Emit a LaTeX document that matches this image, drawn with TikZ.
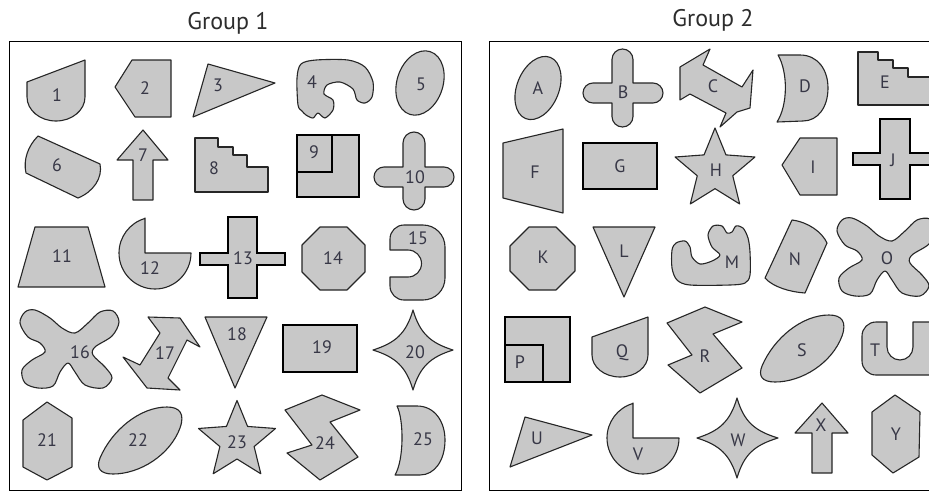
\documentclass[tikz,border=0pt]{standalone}
\usepackage{fontspec}
\setmainfont{PT Sans}
\usetikzlibrary{shapes.geometric}
\definecolor{shapegray}{RGB}{200,200,200}
\definecolor{labelcol}{RGB}{55,55,70}
\definecolor{titlecol}{RGB}{45,45,45}
\begin{document}
\begin{tikzpicture}[x=1pt,y=-1pt,
  shp/.style={draw=black!85, line width=1.1pt, fill=shapegray, line join=round},
  thk/.style={draw=black, line width=2.3pt, fill=shapegray, line join=miter},
  lbl/.style={text=labelcol, font=\fontsize{18}{18}\selectfont, inner sep=0pt},
  ttl/.style={text=titlecol, font=\fontsize{24}{24}\selectfont, inner sep=0pt, anchor=base},
  frm/.style={draw=black, line width=1.8pt},
  starshape/.style={star, star points=5, star point ratio=2.25, shp, inner sep=0pt}]
\clip (0,0) rectangle (929,493);
\fill[white] (0,0) rectangle (929,493);
% titles and frames
\node[ttl] (t1) at (228,29) {Group 1};
\node[ttl] (t2) at (713,26) {Group 2};
\draw[frm] (9.5,41.5) rectangle (461.5,490.5);
\draw[frm] (489.5,41.5) rectangle (945,490.5);

% ---------------- Group 1 ----------------
% 1
\draw[shp] (85,60) -- (27,82) -- (27,97) arc[start angle=180,end angle=0,x radius=29,y radius=24] -- cycle;
% 2
\draw[shp] (115,87) -- (132,60) -- (171,60) -- (171,117) -- (135,117) -- cycle;
% 3
\draw[shp] (208,64) -- (275,83) -- (193,117) -- cycle;
% 4
\draw[shp] plot[smooth cycle, tension=0.5] coordinates {(298,105) (297,78) (301,64) (316,60) (348,60) (365,67) (373,82) (372,97) (365,103) (357,100) (353,89) (340,82) (327,85) (324,94) (333,100) (333,110) (325,118) (318,113) (313,118) (306,115) (302,111)};
% 5
\draw[shp, shift={(420,83)}, rotate=-18] (0,0) ellipse[x radius=23, y radius=33];
% 6
\draw[shp] (38,136) -- (100,164) .. controls (103,178) and (93,192) .. (78,198) -- (26,173) .. controls (23,160) and (28,146) .. (38,136) -- cycle;
% 7
\draw[shp] (143,130) -- (168,160) -- (153,160) -- (153,200) -- (133,200) -- (133,160) -- (117,160) -- cycle;
% 8
\draw[shp] (195,138) -- (218,138) -- (218,147) -- (233,147) -- (233,155) -- (247,155) -- (247,167) -- (268,167) -- (268,192) -- (195,192) -- cycle;
% 9
\draw[thk] (297,135) rectangle (359,197);
\draw[thk] (297,135) rectangle (332,172);
% 10
\draw[shp] (403,167) -- (403,143) arc[start angle=180,end angle=360,radius=11] -- (425,167) -- (444,167) arc[start angle=270,end angle=450,radius=10] -- (425,187) -- (425,199) arc[start angle=0,end angle=180,radius=11] -- (403,187) -- (384,187) arc[start angle=90,end angle=270,radius=10] -- cycle;
% 11
\draw[shp] (35,227) -- (88,227) -- (105,287) -- (18,287) -- cycle;
% 12
\draw[shp] (145,218) -- (145,253) -- (191,253) arc[start angle=0,end angle=254,radius=36] -- cycle;
% 13
\draw[thk] (228,217) -- (257,217) -- (257,253) -- (285,253) -- (285,265) -- (257,265) -- (257,298) -- (228,298) -- (228,265) -- (200,265) -- (200,253) -- (228,253) -- cycle;
% 14
\draw[shp] (320,227) -- (347,227) -- (365,245) -- (365,272) -- (347,290) -- (320,290) -- (302,272) -- (302,245) -- cycle;
% 15
\draw[shp] (390,250) -- (390,239) arc[start angle=180,end angle=270,radius=14] -- (423,225) arc[start angle=270,end angle=360,radius=22] -- (445,278) arc[start angle=0,end angle=90,radius=22] -- (404,300) arc[start angle=90,end angle=180,radius=14] -- (390,277) -- (408,277) arc[start angle=90,end angle=-90,radius=13.5] -- cycle;
% 16
\draw[shp] plot[smooth cycle, tension=0.55] coordinates {(20,323) (25,312) (35,310) (50,318) (62,328) (75,333) (88,323) (100,312) (113,311) (119,322) (112,336) (95,347) (93,355) (105,367) (112,378) (103,388) (85,385) (75,372) (68,363) (60,372) (53,386) (38,388) (25,383) (22,370) (32,360) (45,352) (40,343) (28,337)};
% 17
\draw[shp] (148,317) -- (180,318) -- (200,347) -- (187,340) -- (168,378) -- (180,390) -- (147,388) -- (123,357) -- (140,365) -- (160,333) -- cycle;
% 18
\draw[shp] (205,317) -- (267,317) -- (235,388) -- cycle;
% 19
\draw[thk] (283,325) rectangle (357,372);
% 20
\draw[shp] (413,310) .. controls (420,334) and (431,343) .. (453,350) .. controls (431,357) and (420,366) .. (413,390) .. controls (406,366) and (395,357) .. (373,350) .. controls (395,343) and (406,334) .. (413,310) -- cycle;
% 21
\draw[shp] (47,402) -- (72,418) -- (72,467) -- (47,480) -- (23,467) -- (23,420) -- cycle;
% 22
\draw[shp] (100,458) .. controls (112,430) and (140,407) .. (167,407) .. controls (180,407) and (185,414) .. (180,428) .. controls (170,455) and (140,474) .. (113,474) .. controls (100,474) and (96,468) .. (100,458) -- cycle;
% 23
\node[starshape, minimum size=81pt] (s23) at (237,441) {};
% 24
\draw[shp] (285,410) -- (322,395) -- (360,410) -- (330,422) -- (358,457) -- (320,480) -- (287,453) -- (312,445) -- cycle;
% 25
\draw[shp] (397,406) -- (417,406) .. controls (435,406) and (445,422) .. (445,440) .. controls (445,460) and (435,475) .. (420,475) -- (395,475) .. controls (404,460) and (404,420) .. (397,406) -- cycle;

% ---------------- Group 2 ----------------
% A
\draw[shp, shift={(538,88)}, rotate=-22] (0,0) ellipse[x radius=21, y radius=33];
% B
\draw[shp] (612,83) -- (612,59.5) arc[start angle=180,end angle=360,radius=10.5] -- (633,83) -- (653,83) arc[start angle=270,end angle=450,radius=10] -- (633,103) -- (633,116.5) arc[start angle=0,end angle=180,radius=10.5] -- (612,103) -- (593,103) arc[start angle=90,end angle=270,radius=10] -- cycle;
% C
\draw[shp] (680,67) -- (710,49) -- (703,65) -- (742,87) -- (753,70) -- (750,108) -- (737,112) -- (720,127) -- (726,113) -- (690,94) -- (680,100) -- cycle;
% D
\draw[shp] (778,55) -- (800,55) .. controls (818,55) and (828,70) .. (828,88) .. controls (828,107) and (818,121) .. (803,121) -- (777,122) .. controls (788,105) and (788,72) .. (778,55) -- cycle;
% E
\draw[shp] (858,52) -- (878,52) -- (878,60) -- (893,60) -- (893,68) -- (908,68) -- (908,77) -- (940,77) -- (940,105) -- (858,105) -- cycle;
% F
\draw[shp] (503,143) -- (563,129) -- (563,213) -- (503,198) -- cycle;
% G
\draw[thk] (583,143) rectangle (657,189);
% H
\node[starshape, minimum size=84pt] (sH) at (715,170) {};
% I
\draw[shp] (782,165) -- (800,138) -- (837,138) -- (837,195) -- (800,195) -- cycle;
% J
\draw[thk] (880,119) -- (910,119) -- (910,153) -- (940,153) -- (940,165) -- (910,165) -- (910,199) -- (880,199) -- (880,165) -- (853,165) -- (853,153) -- (880,153) -- cycle;
% K
\draw[shp] (529,227) -- (556,227) -- (575,246) -- (575,271) -- (556,290) -- (529,290) -- (510,271) -- (510,246) -- cycle;
% L
\draw[shp] (593,227) -- (655,227) -- (624,297) -- cycle;
% M
\draw[shp] plot[smooth cycle, tension=0.5] coordinates {(672,250) (676,243) (685,241) (690,247) (692,257) (700,264) (712,261) (720,255) (712,247) (708,235) (713,226) (722,226) (727,233) (732,232) (736,226) (743,228) (748,238) (750,252) (750,275) (745,283) (730,285) (690,285) (677,280) (672,268)};
% N
\draw[shp] (792,220) .. controls (808,222) and (822,232) .. (827,243) -- (805,293) .. controls (790,292) and (773,287) .. (765,278) -- cycle;
% O
\begin{scope}[shift={(817,-92)}]
\draw[shp] plot[smooth cycle, tension=0.55] coordinates {(20,323) (25,312) (35,310) (50,318) (62,328) (75,333) (88,323) (100,312) (113,311) (119,322) (112,336) (95,347) (93,355) (105,367) (112,378) (103,388) (85,385) (75,372) (68,363) (60,372) (53,386) (38,388) (25,383) (22,370) (32,360) (45,352) (40,343) (28,337)};
\end{scope}
% P
\draw[thk] (505,317) rectangle (570,382);
\draw[thk] (505,345) rectangle (543,382);
% Q
\draw[shp] (648,317) -- (592,337) -- (592,355) arc[start angle=180,end angle=0,x radius=28,y radius=22] -- cycle;
% R
\draw[shp] (667,323) -- (705,307) -- (742,322) -- (713,334) -- (742,368) -- (700,393) -- (668,365) -- (692,355) -- cycle;
% S
\begin{scope}[shift={(662,-92)}]
\draw[shp] (100,458) .. controls (112,430) and (140,407) .. (167,407) .. controls (180,407) and (185,414) .. (180,428) .. controls (170,455) and (140,474) .. (113,474) .. controls (100,474) and (96,468) .. (100,458) -- cycle;
\end{scope}
% T
\draw[shp] (887,322) -- (887,347) arc[start angle=180,end angle=0,radius=13] -- (913,322) -- (945,322) -- (945,375) -- (876,375) arc[start angle=90,end angle=180,radius=14] -- (862,336) arc[start angle=180,end angle=270,radius=14] -- cycle;
% U
\draw[shp] (525,417) -- (592,435) -- (510,467) -- cycle;
% V
\draw[shp] (633,403) -- (633,438) -- (679,438) arc[start angle=0,end angle=254,radius=36] -- cycle;
% W
\draw[shp] (737,398) .. controls (744,422) and (755,431) .. (778,438) .. controls (755,445) and (744,454) .. (737,478) .. controls (730,454) and (719,445) .. (697,438) .. controls (719,431) and (730,422) .. (737,398) -- cycle;
% X
\draw[shp] (822,403) -- (848,433) -- (832,433) -- (832,473) -- (812,473) -- (812,433) -- (795,433) -- cycle;
% Y
\draw[shp] (895,395) -- (920,412) -- (919,457) -- (893,473) -- (872,455) -- (872,412) -- cycle;

% ---------------- labels ----------------
\node[lbl] (l1) at (57,95) {1};
\node[lbl] (l2) at (145,88) {2};
\node[lbl] (l3) at (218,85) {3};
\node[lbl] (l4) at (312,82) {4};
\node[lbl] (l5) at (421,84) {5};
\node[lbl] (l6) at (57,165) {6};
\node[lbl] (l7) at (143,155) {7};
\node[lbl] (l8) at (214,168) {8};
\node[lbl] (l9) at (314,152) {9};
\node[lbl] (l10) at (415,177) {10};
\node[lbl] (l11) at (62,256) {11};
\node[lbl] (l12) at (150,268) {12};
\node[lbl] (l13) at (243,258) {13};
\node[lbl] (l14) at (333,258) {14};
\node[lbl] (l15) at (418,238) {15};
\node[lbl] (l16) at (80,352) {16};
\node[lbl] (l17) at (165,353) {17};
\node[lbl] (l18) at (237,334) {18};
\node[lbl] (l19) at (322,347) {19};
\node[lbl] (l20) at (415,352) {20};
\node[lbl] (l21) at (47,440) {21};
\node[lbl] (l22) at (138,440) {22};
\node[lbl] (l23) at (237,442) {23};
\node[lbl] (l24) at (325,443) {24};
\node[lbl] (l25) at (423,439) {25};
\node[lbl] (lA) at (538,88) {A};
\node[lbl] (lB) at (623,92) {B};
\node[lbl] (lC) at (713,86) {C};
\node[lbl] (lD) at (805,86) {D};
\node[lbl] (lE) at (885,82) {E};
\node[lbl] (lF) at (535,172) {F};
\node[lbl] (lG) at (620,166) {G};
\node[lbl] (lH) at (716,170) {H};
\node[lbl] (lI) at (813,167) {I};
\node[lbl] (lJ) at (893,160) {J};
\node[lbl] (lK) at (543,257) {K};
\node[lbl] (lL) at (624,251) {L};
\node[lbl] (lM) at (732,262) {M};
\node[lbl] (lN) at (795,259) {N};
\node[lbl] (lO) at (887,258) {O};
\node[lbl] (lP) at (520,362) {P};
\node[lbl] (lQ) at (622,353) {Q};
\node[lbl] (lR) at (705,356) {R};
\node[lbl] (lS) at (802,350) {S};
\node[lbl] (lT) at (875,350) {T};
\node[lbl] (lU) at (537,438) {U};
\node[lbl] (lV) at (638,454) {V};
\node[lbl] (lW) at (738,440) {W};
\node[lbl] (lX) at (821,425) {X};
\node[lbl] (lY) at (896,434) {Y};
\end{tikzpicture}
\end{document}
